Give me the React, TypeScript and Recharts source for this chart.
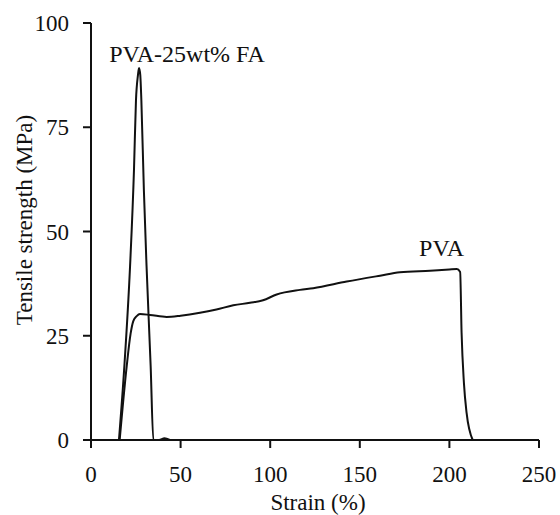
import { LineChart, Line, XAxis, YAxis, ReferenceDot } from 'recharts';

// PVA-25wt% FA curve
const faStrain = [15.6, 18.6, 21.8, 24.0, 25.1, 26.2, 26.8, 27.5, 28.1, 29.5, 31.0, 33.3, 34.8, 38, 41, 44];
const faStress = [0, 17.6, 41.7, 65, 81.5, 87.5, 89.2, 87.5, 81.5, 60, 41.7, 17.6, 0, 0, 0.4, 0];

// pure PVA curve
const pvaStrain = [
  16, 19.9, 22.1, 23.6, 25.5, 27.3, 32.9, 42.2, 50, 60.8, 70, 79.4, 88.7, 96, 103.6, 116.6, 124,
  142.7, 161.3, 172.4, 189.2, 200, 204.1, 206.0, 206.8, 208.1, 209.6, 213.0,
];
const pvaStress = [
  0, 17.6, 25.5, 28.5, 29.7, 30.2, 30, 29.5, 29.8, 30.5, 31.3, 32.3, 32.9, 33.5, 34.9, 36.0, 36.4,
  38.0, 39.4, 40.2, 40.6, 40.9, 41.0, 40.3, 25.7, 13.7, 6.5, 0,
];

const xTicks = [0, 50, 100, 150, 200, 250];
const yTicks = [0, 25, 50, 75, 100];

const faData = faStrain.map((s, i) => ({ strain: s, stress: faStress[i] }));
const pvaData = pvaStrain.map((s, i) => ({ strain: s, stress: pvaStress[i] }));

const ink = '#111';
const font = 'Liberation Serif';
const tickStyle = { fill: ink, fontSize: 23, fontFamily: font };

export default function App() {
  return (
    <div style={{ position: 'absolute', left: 0, top: 0, background: '#fff', fontFamily: font }}>
      <LineChart
        width={560}
        height={515}
        margin={{ top: 23, right: 21, bottom: 0, left: 0 }}
        style={{ fontFamily: font }}
      >
        <XAxis
          dataKey="strain"
          type="number"
          domain={[0, 250]}
          ticks={xTicks}
          height={75}
          tickSize={8}
          tickMargin={18}
          tick={tickStyle}
          axisLine={{ stroke: ink, strokeWidth: 2 }}
          tickLine={{ stroke: ink, strokeWidth: 2 }}
          label={{
            value: 'Strain (%)',
            position: 'insideBottom',
            offset: 5,
            dx: 3,
            fill: ink,
            fontSize: 23,
            fontFamily: font,
          }}
        />
        <YAxis
          type="number"
          domain={[0, 100]}
          ticks={yTicks}
          width={91}
          tickSize={8}
          tickMargin={14}
          tick={tickStyle}
          axisLine={{ stroke: ink, strokeWidth: 2 }}
          tickLine={{ stroke: ink, strokeWidth: 2 }}
          label={{
            content: () => (
              <text
                x={32}
                y={220}
                transform="rotate(-90, 32, 220)"
                textAnchor="middle"
                fill={ink}
                fontSize={23}
                fontFamily={font}
              >
                Tensile strength  (MPa)
              </text>
            ),
          }}
        />
        <Line
          data={pvaData}
          dataKey="stress"
          type="monotone"
          dot={false}
          stroke={ink}
          strokeWidth={2}
          isAnimationActive={false}
        />
        <Line
          data={faData}
          dataKey="stress"
          type="monotone"
          dot={false}
          stroke={ink}
          strokeWidth={2}
          isAnimationActive={false}
        />
        <ReferenceDot
          x={53.6}
          y={92.7}
          r={0}
          fill="none"
          stroke="none"
          label={{ value: 'PVA-25wt% FA', position: 'center', fill: ink, fontSize: 24, fontFamily: font }}
        />
        <ReferenceDot
          x={195.6}
          y={46.2}
          r={0}
          fill="none"
          stroke="none"
          label={{ value: 'PVA', position: 'center', fill: ink, fontSize: 24, fontFamily: font }}
        />
      </LineChart>
    </div>
  );
}
